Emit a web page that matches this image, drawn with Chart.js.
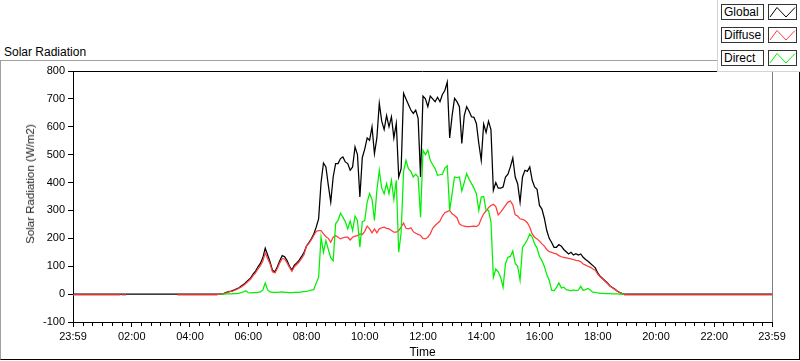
<!DOCTYPE html>
<html>
<head>
<meta charset="utf-8">
<title>Solar Radiation</title>
<script src="https://cdn.jsdelivr.net/npm/chart.js@4.4.0/dist/chart.umd.min.js"></script>
<style>
  html, body { margin: 0; padding: 0; background: #fff; }
  #wrap { position: relative; width: 800px; height: 361px; overflow: hidden; font-family: "Liberation Sans", Arial, sans-serif; color: #000; }
  #frame { position: absolute; left: 0; top: 60px; width: 800px; height: 300px; box-sizing: border-box;
           border-left: 1px solid #a0a0a0; border-top: 1px solid #a0a0a0; border-right: 1px solid #000; border-bottom: 1px solid #000; }
  #chart { position: absolute; left: 0; top: 0; }
  #title { position: absolute; left: 4px; top: 46px; font-size: 12px; line-height: 12px; }
  #ytitle { position: absolute; left: 30px; top: 184px; transform: translate(-50%, -50%) rotate(-90deg);
            white-space: nowrap; font-size: 11.5px; color: #222; }
  #legend { position: absolute; left: 717px; top: 0; width: 83px; height: 72px; background: #fff; box-sizing: border-box;
            border-left: 1px solid #d4d4d4; border-bottom: 1px solid #d4d4d4; }
  .row { position: absolute; left: 3px; height: 16px; }
  .name { position: absolute; left: 0; top: 0; width: 43px; height: 16px; box-sizing: border-box; border: 1px solid #333;
          background: #fff; font-size: 12px; line-height: 14px; padding-left: 2px; }
  .sw { position: absolute; left: 47px; top: 0; width: 29px; height: 16px; box-sizing: border-box; border: 1px solid #333; background: #fff; }
  .sw svg { position: absolute; left: 0; top: 0; }
</style>
</head>
<body>
<div id="wrap">
  <div id="frame"></div>
  <div id="title">Solar Radiation</div>
  <canvas id="chart" width="800" height="361"></canvas>
  <div id="ytitle">Solar Radiation (W/m2)</div>
  <div id="legend"></div>
</div>
<script>
// series names and colours (legend order)
const seriesNames = ['Global', 'Diffuse', 'Direct'];
const seriesColors = ['#000000', '#ff3c3c', '#00f000'];

// x axis: minutes after midnight, 23:59 -> 23:59
const majorTicks = [-1, 120, 240, 360, 480, 600, 720, 840, 960, 1080, 1200, 1320, 1439];
const timeLabels = ['23:59', '02:00', '04:00', '06:00', '08:00', '10:00', '12:00', '14:00', '16:00', '18:00', '20:00', '22:00', '23:59'];
const minorStep = 20;

// night samples before sunrise (minutes)
const amTimes = [-1, 97, 98, 100, 108, 109, 214, 295];
const globalAm = [0, 0, 0, 0, 0, 0, 0, 0];
const diffuseAm = [-3, -3, null, -3, -3, null, -3, -3];
const directAm = [null, null, null, null, null, null, null, null];

// daytime samples, every 5 minutes from 05:00
const dayStart = 300;
const dayStep = 5;
const globalDay = [
  0, 1, 3, 6, 9, 11, 14, 18, 22, 28, 34, 42,
  50, 58, 72, 82, 98, 110, 130, 165, 140, 115, 85, 80,
  98, 120, 138, 134, 120, 100, 86, 104, 112, 122, 135, 150,
  172, 185, 198, 215, 240, 270, 400, 470, 456, 390, 330, 420,
  468, 468, 486, 492, 474, 468, 444, 456, 528, 500, 348, 490,
  520, 560, 552, 600, 504, 560, 684, 620, 590, 640, 600, 636,
  560, 612, 420, 450, 720, 700, 680, 660, 648, 660, 630, 420,
  710, 700, 672, 710, 700, 690, 706, 690, 716, 730, 760, 560,
  640, 702, 690, 672, 540, 640, 672, 656, 636, 634, 612, 540,
  480, 610, 580, 620, 590, 372, 400, 380, 380, 384, 420, 430,
  456, 488, 420, 396, 330, 420, 444, 440, 456, 408, 384, 376,
  318, 305, 272, 228, 200, 185, 168, 168, 178, 172, 160, 152,
  144, 150, 140, 145, 140, 144, 132, 124, 118, 110, 102, 94,
  76, 64, 56, 48, 40, 30, 24, 18, 11, 6, 2, 0
];
const diffuseDay = [
  0, 0, 2, 5, 8, 10, 12, 16, 20, 25, 31, 38,
  46, 54, 66, 76, 90, 102, 118, 148, 128, 108, 80, 76,
  92, 112, 128, 126, 112, 96, 82, 98, 106, 116, 128, 142,
  172, 182, 195, 210, 225, 228, 228, 216, 206, 200, 186, 204,
  210, 204, 198, 202, 204, 204, 194, 204, 208, 210, 216, 214,
  225, 244, 234, 220, 234, 220, 234, 238, 240, 236, 234, 228,
  222, 222, 228, 240, 255, 236, 234, 238, 224, 218, 214, 210,
  200, 198, 204, 216, 236, 246, 254, 262, 280, 292, 296, 300,
  288, 282, 274, 252, 246, 244, 242, 242, 243, 244, 242, 248,
  270, 288, 298, 310, 318, 322, 314, 284, 294, 306, 318, 330,
  334, 320, 284, 280, 270, 268, 264, 256, 240, 216, 204, 198,
  190, 180, 172, 160, 152, 150, 146, 144, 138, 134, 132, 130,
  128, 126, 124, 121, 120, 116, 108, 104, 100, 96, 90, 86,
  72, 62, 54, 46, 38, 29, 23, 17, 11, 6, 2, -3
];
const directDay = [
  null, 0, 0, 1, 1, 1, 2, 2, 3, 5, 8, 12,
  5, 4, 5, 5, 6, 8, 14, 40, 15, 8, 6, 6,
  6, 7, 8, 6, 6, 5, 5, 6, 6, 6, 8, 9,
  10, 12, 14, 16, 40, 60, 204, 150, 192, 160, 130, 120,
  252, 264, 290, 276, 260, 234, 262, 228, 280, 264, 168, 260,
  264, 330, 360, 340, 264, 372, 444, 380, 360, 396, 360, 408,
  340, 408, 150, 220, 440, 480, 450, 440, 420, 430, 420, 276,
  516, 500, 516, 480, 464, 450, 426, 428, 430, 452, 460, 300,
  360, 420, 418, 420, 370, 400, 432, 412, 396, 380, 360, 300,
  348, 350, 300, 300, 260, 60, 90, 80, 60, 24, 110, 132,
  135, 155, 110, 100, 50, 168, 180, 195, 216, 205, 180, 165,
  135, 120, 100, 70, 50, 14, 12, 24, 40, 22, 25, 16,
  14, 12, 15, 13, 14, 28, 14, 16, 20, 14, 7, 6,
  4, 3, 3, 2, 2, 2, 1, 1, 1, 0, 0, 0
];

// night samples after sunset
const pmTimes = [1140, 1439];
const globalPm = [0, 0];
const diffusePm = [-3, -3];
const directPm = [null, null];

function buildPoints(am, day, pm) {
  const pts = [];
  amTimes.forEach((t, i) => pts.push({ x: t, y: am[i] }));
  day.forEach((v, i) => pts.push({ x: dayStart + i * dayStep, y: v }));
  pmTimes.forEach((t, i) => pts.push({ x: t, y: pm[i] }));
  return pts;
}

const seriesData = [
  buildPoints(globalAm, globalDay, globalPm),
  buildPoints(diffuseAm, diffuseDay, diffusePm),
  buildPoints(directAm, directDay, directPm)
];

// legend boxes
const legend = document.getElementById('legend');
seriesNames.forEach((name, i) => {
  const row = document.createElement('div');
  row.className = 'row';
  row.style.top = (4 + i * 23) + 'px';
  row.innerHTML = '<div class="name">' + name + '</div>' +
    '<div class="sw"><svg width="27" height="14"><polyline points="1,12 8,2.5 17,12 26,2.5" fill="none" stroke="' +
    seriesColors[i] + '" stroke-width="1"/></svg></div>';
  legend.appendChild(row);
});

// top and right border of the plot area
const plotFrame = {
  id: 'plotFrame',
  afterDraw(chart) {
    const { ctx, chartArea: a } = chart;
    ctx.save();
    ctx.lineWidth = 1;
    ctx.strokeStyle = '#000';
    ctx.beginPath();
    ctx.moveTo(a.left, Math.round(a.top) + 0.5);
    ctx.lineTo(a.right, Math.round(a.top) + 0.5);
    ctx.stroke();
    ctx.strokeStyle = '#808080';
    ctx.beginPath();
    ctx.moveTo(Math.round(a.right) + 0.5, a.top);
    ctx.lineTo(Math.round(a.right) + 0.5, a.bottom);
    ctx.stroke();
    ctx.restore();
  }
};

const tickFont = { family: '"Liberation Sans", Arial, sans-serif', size: 11 };

new Chart(document.getElementById('chart'), {
  type: 'line',
  data: {
    datasets: seriesNames.map((name, i) => ({
      label: name,
      data: seriesData[i],
      borderColor: seriesColors[i],
      borderWidth: 1.25,
      pointRadius: 0,
      tension: 0,
      spanGaps: false,
      order: 3 - i
    }))
  },
  options: {
    responsive: false,
    animation: false,
    events: [],
    layout: { padding: { left: 0, top: 71, right: 28, bottom: 0 } },
    plugins: { legend: { display: false }, tooltip: { enabled: false } },
    scales: {
      x: {
        type: 'linear',
        min: -1,
        max: 1439,
        afterFit: s => { s.height = 39; },
        afterBuildTicks: s => {
          const ticks = [];
          majorTicks.forEach((m, i) => {
            ticks.push({ value: m, major: true });
            if (i < majorTicks.length - 1) {
              for (let t = Math.ceil((m + 1) / minorStep) * minorStep; t < majorTicks[i + 1]; t += minorStep) {
                ticks.push({ value: t, major: false });
              }
            }
          });
          s.ticks = ticks;
        },
        ticks: {
          autoSkip: false,
          maxRotation: 0,
          padding: 3,
          color: '#000',
          font: tickFont,
          callback: v => {
            const k = majorTicks.indexOf(v);
            return k >= 0 ? timeLabels[k] : '';
          }
        },
        grid: {
          drawOnChartArea: false,
          tickLength: 5,
          tickColor: '#000',
          tickBorderDash: ctx => (ctx.tick && ctx.tick.major) ? [] : [3, 20]
        },
        border: { color: '#000' },
        title: {
          display: true,
          text: 'Time',
          color: '#000',
          font: { family: '"Liberation Sans", Arial, sans-serif', size: 12 },
          padding: { top: 0, bottom: 1 }
        }
      },
      y: {
        min: -100,
        max: 800,
        afterFit: s => { s.width = 73; },
        ticks: { stepSize: 100, padding: 3, color: '#000', font: tickFont },
        grid: { drawOnChartArea: false, tickLength: 5, tickColor: '#000' },
        border: { color: '#000' }
      }
    }
  },
  plugins: [plotFrame]
});
</script>
</body>
</html>
